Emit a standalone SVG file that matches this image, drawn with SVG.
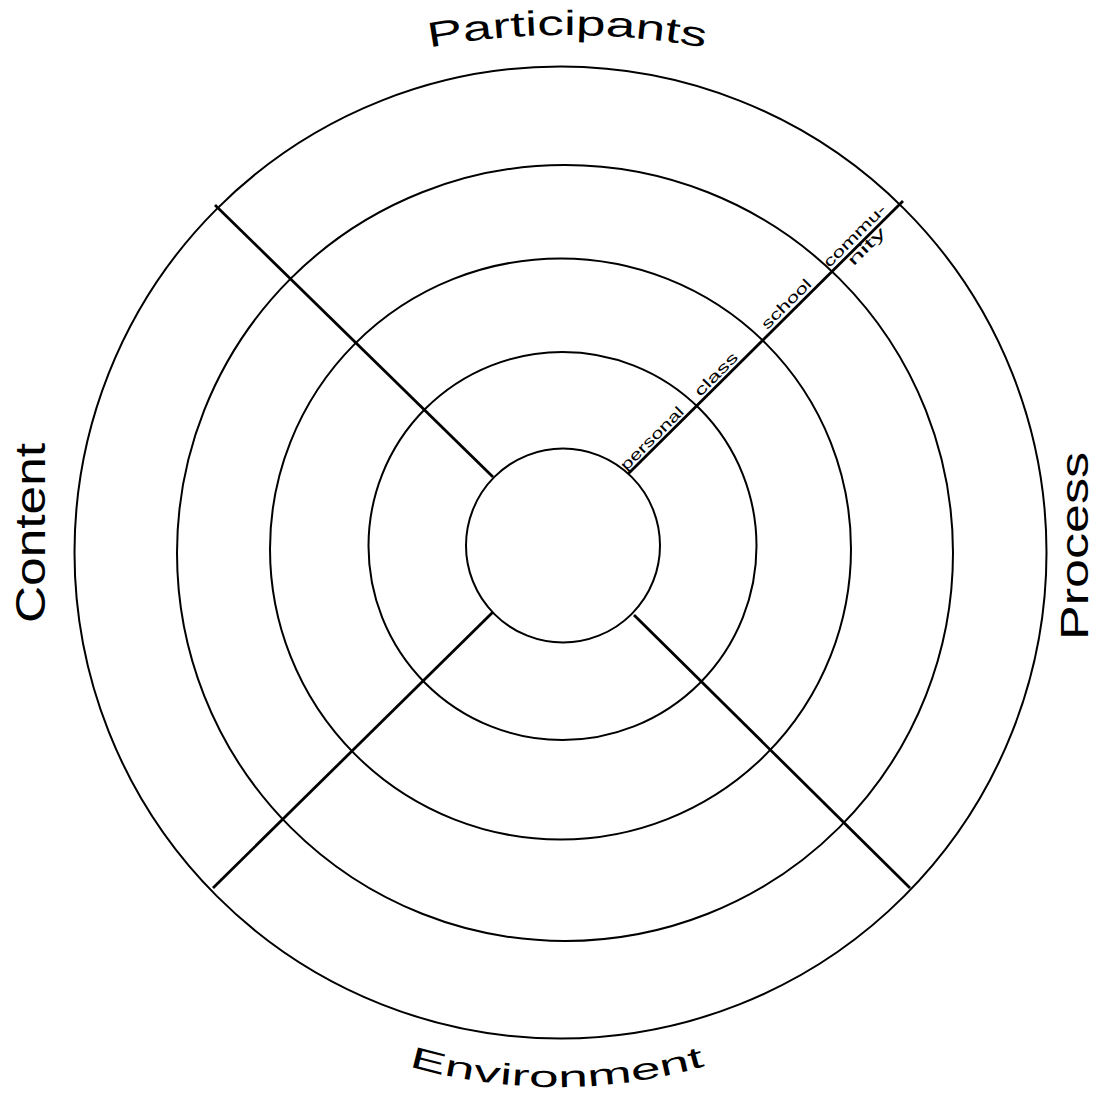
<svg xmlns="http://www.w3.org/2000/svg" width="1101" height="1099" viewBox="0 0 1101 1099">
<style>
.ring{fill:none;stroke:#000;stroke-width:2}
.spoke{fill:none;stroke:#000;stroke-width:2.8}
.big{font-family:"Liberation Sans",Arial,sans-serif;fill:#000}
.small{font-family:"Liberation Sans",Arial,sans-serif;font-size:15px;fill:#000}
</style>
<defs>
<path id="arcTop" d="M 367 61.8 A 760 760 0 0 1 767 61.8"/>
<path id="arcBot" d="M 357 1048.2 A 535 535 0 0 0 757 1048.2"/>
</defs>
<rect width="1101" height="1099" fill="#fff"/>
<g id="ring-personal"><circle class="ring" cx="563" cy="545.5" r="97"/></g>
<g id="ring-class"><circle class="ring" cx="562.5" cy="546" r="194"/></g>
<g id="ring-school"><circle class="ring" cx="560.5" cy="549" r="290.5"/></g>
<g id="ring-community"><circle class="ring" cx="565" cy="553" r="388"/></g>
<g id="ring-outer"><circle class="ring" cx="560.5" cy="552.5" r="486"/></g>
<g id="connectors">
<line class="spoke" x1="493" y1="477" x2="215" y2="205"/>
<line class="spoke" x1="628" y1="474" x2="903" y2="201"/>
<line class="spoke" x1="493" y1="612" x2="213" y2="888"/>
<line class="spoke" x1="634" y1="615" x2="910" y2="888"/>
</g>
<g id="ring-labels">
<text class="small" transform="translate(626.2,471.2) rotate(-45)" textLength="83" lengthAdjust="spacingAndGlyphs">personal</text>
<text class="small" transform="translate(700.2,397.2) rotate(-45)" textLength="55" lengthAdjust="spacingAndGlyphs">class</text>
<text class="small" transform="translate(767.2,330.2) rotate(-45)" textLength="64" lengthAdjust="spacingAndGlyphs">school</text>
<text class="small" transform="translate(829.2,268.2) rotate(-45)" textLength="82" lengthAdjust="spacingAndGlyphs">commu-</text>
<text class="small" transform="translate(870,250) rotate(-45)" text-anchor="middle" textLength="47" lengthAdjust="spacingAndGlyphs">nity</text>
</g>
<g id="label-participants"><text class="big" font-size="35"><textPath href="#arcTop" startOffset="50%" text-anchor="middle" textLength="277" lengthAdjust="spacingAndGlyphs">Participants</textPath></text></g>
<g id="label-environment"><text class="big" font-size="30"><textPath href="#arcBot" startOffset="50%" text-anchor="middle" textLength="300" lengthAdjust="spacingAndGlyphs">Environment</textPath></text></g>
<g id="label-content"><text class="big" font-size="42" transform="translate(45,623) rotate(-90)" textLength="180" lengthAdjust="spacingAndGlyphs">Content</text></g>
<g id="label-process"><text class="big" font-size="39" transform="translate(1088,640) rotate(-90)" textLength="188" lengthAdjust="spacingAndGlyphs">Process</text></g>
</svg>
